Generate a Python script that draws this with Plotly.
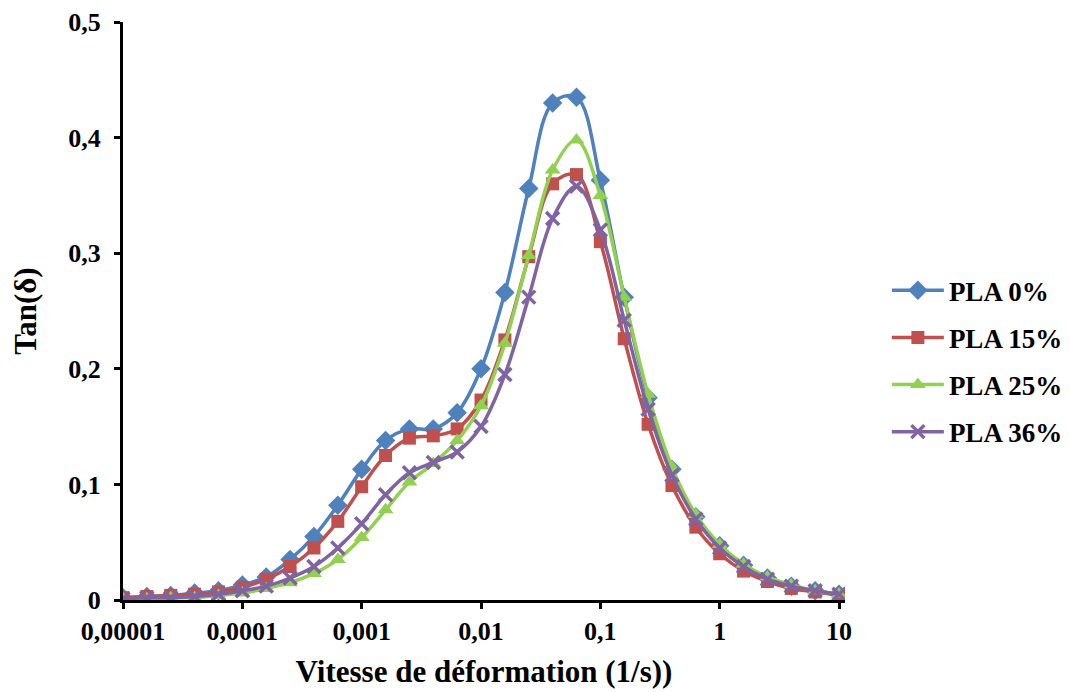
import plotly.graph_objects as go

# Strain rate (1/s): 5 points per decade from 1e-5 to 10
exponents = [-5 + i * 0.2 for i in range(31)]
strain_rate = [10 ** e for e in exponents]

pla_0 = [0.002, 0.003, 0.004, 0.006, 0.008, 0.013, 0.020, 0.035, 0.055, 0.082,
         0.113, 0.138, 0.148, 0.148, 0.162, 0.200, 0.266, 0.356, 0.430, 0.435,
         0.363, 0.262, 0.175, 0.113, 0.072, 0.047, 0.030, 0.019, 0.012, 0.008, 0.005]
pla_15 = [0.002, 0.003, 0.004, 0.005, 0.007, 0.011, 0.018, 0.029, 0.045, 0.068,
          0.098, 0.125, 0.140, 0.142, 0.148, 0.173, 0.225, 0.297, 0.360, 0.368,
          0.310, 0.226, 0.152, 0.099, 0.063, 0.040, 0.025, 0.016, 0.010, 0.007, 0.004]
pla_25 = [0.001, 0.001, 0.002, 0.002, 0.004, 0.006, 0.010, 0.015, 0.023, 0.035,
          0.054, 0.078, 0.102, 0.118, 0.138, 0.168, 0.222, 0.298, 0.372, 0.398,
          0.350, 0.262, 0.178, 0.115, 0.074, 0.048, 0.031, 0.020, 0.013, 0.008, 0.005]
pla_36 = [0.001, 0.002, 0.002, 0.003, 0.005, 0.008, 0.012, 0.019, 0.029, 0.045,
          0.066, 0.091, 0.110, 0.119, 0.128, 0.150, 0.195, 0.262, 0.330, 0.358,
          0.320, 0.242, 0.165, 0.108, 0.070, 0.045, 0.029, 0.018, 0.012, 0.008, 0.005]

series_names = ["PLA 0%", "PLA 15%", "PLA 25%", "PLA 36%"]
series_values = [pla_0, pla_15, pla_25, pla_36]
colors = ["#4F81BD", "#C0504D", "#92D050", "#8064A2"]
symbols = ["diamond", "square", "triangle-up", "x-thin"]
sizes = [15, 13, 14, 13]

x_tickvals = [1e-5, 1e-4, 1e-3, 1e-2, 1e-1, 1, 10]
x_ticktext = ["0,00001", "0,0001", "0,001", "0,01", "0,1", "1", "10"]
y_tickvals = [0, 0.1, 0.2, 0.3, 0.4, 0.5]
y_ticktext = ["0", "0,1", "0,2", "0,3", "0,4", "0,5"]

FONT = "Liberation Serif, Times New Roman, serif"

fig = go.Figure()
for name, vals, col, sym, sz in zip(series_names, series_values, colors, symbols, sizes):
    marker = dict(symbol=sym, size=sz, color=col)
    if sym == "x-thin":
        marker["line"] = dict(color=col, width=3.5)
    fig.add_trace(go.Scatter(
        x=strain_rate, y=vals, name=name, legendgroup=name,
        mode="lines+markers",
        line=dict(color=col, width=3.5, shape="spline", smoothing=1.0),
        marker=marker,
    ))

fig.update_layout(
    width=1070, height=692,
    paper_bgcolor="white", plot_bgcolor="white",
    margin=dict(l=115, r=233, t=14, b=100, autoexpand=False),
    font=dict(family=FONT, size=26, color="black", weight="bold"),
    legend=dict(
        x=1.058, y=0.413, xanchor="left", yanchor="middle",
        font=dict(family=FONT, size=27, color="black", weight="bold"),
        traceorder="grouped", tracegroupgap=9, itemwidth=52,
        bgcolor="rgba(0,0,0,0)",
    ),
    xaxis=dict(
        type="log", range=[-5, 1.05],
        tickvals=x_tickvals, ticktext=x_ticktext,
        showline=True, linecolor="black", linewidth=3,
        ticks="outside", ticklen=6, tickwidth=3, tickcolor="black",
        showgrid=False, zeroline=False, automargin=False,
        tickfont=dict(family=FONT, size=26, color="black", weight="bold"),
        title=dict(text="Vitesse de déformation (1/s))",
                   font=dict(family=FONT, size=31, color="black", weight="bold"),
                   standoff=16),
    ),
    yaxis=dict(
        range=[0, 0.5],
        tickvals=y_tickvals, ticktext=y_ticktext,
        showline=True, linecolor="black", linewidth=3,
        ticks="outside", ticklen=6, tickwidth=3, tickcolor="black",
        showgrid=False, zeroline=False, automargin=False,
        ticklabelstandoff=8,
        tickfont=dict(family=FONT, size=26, color="black", weight="bold"),
        title=dict(text="Tan(δ)",
                   font=dict(family=FONT, size=31, color="black", weight="bold"),
                   standoff=34),
    ),
)

fig.write_html("out.html")
